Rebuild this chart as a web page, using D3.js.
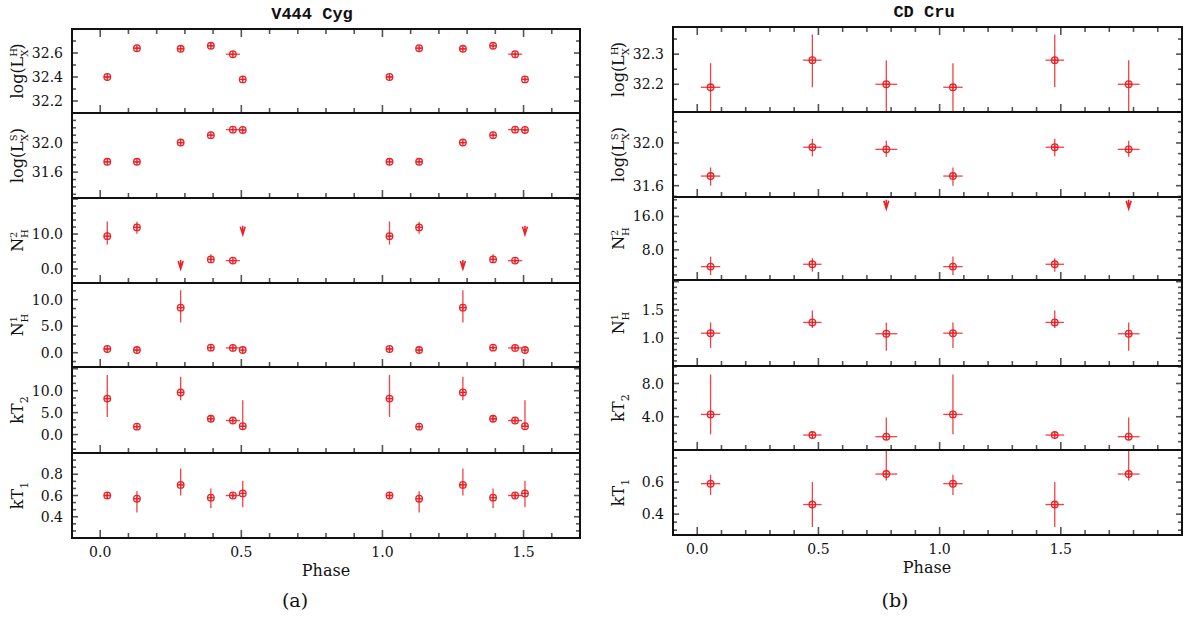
<!DOCTYPE html>
<html lang="en">
<head>
<meta charset="utf-8">
<title>V444 Cyg / CD Cru</title>
<script src="https://d3js.org/d3.v7.min.js"></script>
<style>
body { margin: 0; background: #fff; }
svg text { font-family: "DejaVu Serif", serif; fill: #111; }
.title { font-family: "Liberation Mono", monospace; font-weight: bold; font-size: 17px; }
.tick-label { font-size: 14px; }
.axis-title { font-size: 16px; }
.letter { font-size: 19px; }
</style>
</head>
<body>
<svg id="chart" width="1186" height="617"></svg>
<script>
// ---- data (phase is folded, every observation is drawn at phase and phase+1) ----
var cycles = [0, 1];

// V444 Cyg
var phaseA = [0.025, 0.13, 0.285, 0.392, 0.47, 0.505];
var phaseErrA = [0.012, 0.01, 0.012, 0.01, 0.025, 0.006];
var logLHa = [32.40, 32.64, 32.635, 32.66, 32.59, 32.38];
var logLHaErr = [[0.012,0.012],[0.012,0.012],[0.012,0.012],[0.012,0.012],[0.012,0.012],[0.012,0.012]];
var logLSa = [31.74, 31.74, 32.0, 32.1, 32.175, 32.17];
var logLSaErr = [[0.015,0.015],[0.015,0.015],[0.015,0.015],[0.015,0.015],[0.015,0.015],[0.015,0.015]];
var NH2a = [9.4, 11.9, null, 2.75, 2.4, null];
var NH2aErr = [[2.4,4.2],[1.8,1.6],null,[1.0,1.5],[0.4,0.4],null];
var NH2aLim = [null, null, 2.6, null, null, 12.4];
var NH1a = [0.7, 0.5, 8.5, 0.95, 0.9, 0.5];
var NH1aErr = [[0.3,0.3],[0.3,0.3],[2.8,3.3],[0.3,0.3],[0.3,0.3],[0.3,0.3]];
var kT2a = [8.2, 1.8, 9.6, 3.6, 3.2, 1.9];
var kT2aErr = [[4.2,5.4],[0.3,0.3],[1.8,3.6],[0.7,0.9],[0.4,0.4],[0.2,5.9]];
var kT1a = [0.60, 0.57, 0.70, 0.58, 0.60, 0.62];
var kT1aErr = [[0.03,0.03],[0.13,0.07],[0.10,0.155],[0.10,0.085],[0.02,0.02],[0.13,0.12]];

// CD Cru
var phaseB = [0.055, 0.475, 0.78];
var phaseErrB = [0.04, 0.038, 0.045];
var logLHb = [32.19, 32.28, 32.20];
var logLHbErr = [[0.1,0.08],[0.09,0.085],[0.1,0.08]];
var logLSb = [31.69, 31.96, 31.94];
var logLSbErr = [[0.09,0.08],[0.085,0.08],[0.07,0.08]];
var NH2b = [4.0, 4.56, null];
var NH2bErr = [[2.0,2.4],[1.76,1.44],null];
var NH2bLim = [null, null, 20.0];
var NH1b = [1.09, 1.28, 1.08];
var NH1bErr = [[0.26,0.19],[0.1,0.21],[0.3,0.2]];
var kT2b = [4.28, 1.8, 1.6];
var kT2bErr = [[2.4,4.8],[0.15,0.15],[0.05,2.3]];
var kT1b = [0.59, 0.46, 0.65];
var kT1bErr = [[0.07,0.055],[0.14,0.14],[0.04,0.15]];

// axis ranges and tick steps
var xDomainA = [-0.1, 1.7];
var xDomainB = [-0.1, 2.0];
var yDomainsA = [[32.1,32.8],[31.25,32.4],[-4,20.3],[-2.7,13.15],[-4.2,15.4],[0.2,1.0]];
var yMajorA = [0.2, 0.4, 10, 5, 5, 0.2];
var yMinorA = [0.1, 0.1, 2, 5/3, 5/3, 0.2/3];
var yDomainsB = [[32.108,32.39],[31.494,32.29],[0.8,20.65],[0.51,2.03],[0,10.1],[0.27,0.8]];
var yMajorB = [0.1, 0.4, 8, 0.5, 4, 0.2];
var yMinorB = [0.05, 0.1, 2, 0.1, 1, 0.05];

var yTitles = [
  {base: "log(L", sup: "H", sub: "X", tail: ")"},
  {base: "log(L", sup: "S", sub: "X", tail: ")"},
  {base: "N", sup: "2", sub: "H"},
  {base: "N", sup: "1", sub: "H"},
  {base: "kT", sub: "2"},
  {base: "kT", sub: "1"}
];

var red = "#ec2227";
var fmt = d3.format(".1f");
var svg = d3.select("#chart");
var defs = svg.append("defs");

function tickList(domain, minor, major) {
  var out = [];
  var k0 = Math.ceil(domain[0] / minor - 1e-6), k1 = Math.floor(domain[1] / minor + 1e-6);
  for (var k = k0; k <= k1; k++) {
    var v = k * minor, r = v / major;
    out.push({v: v, major: Math.abs(r - Math.round(r)) < 1e-6});
  }
  return out;
}

function yLabel(g, x, y, spec) {
  var t = g.append("text").attr("class", "axis-title")
    .attr("transform", "translate(" + x + "," + y + ") rotate(-90)")
    .attr("text-anchor", "middle");
  t.append("tspan").text(spec.base);
  var shift = 0;
  if (spec.sup) {
    var s = t.append("tspan").attr("font-size", 10).attr("dy", -6).text(spec.sup);
    shift = -6;
    if (spec.sub) {
      var w = s.node().getComputedTextLength();
      t.append("tspan").attr("font-size", 10).attr("dx", -w).attr("dy", 11).text(spec.sub);
      shift = 5;
    }
  } else if (spec.sub) {
    t.append("tspan").attr("font-size", 11).attr("dy", 5).text(spec.sub);
    shift = 5;
  }
  if (spec.tail) t.append("tspan").attr("dy", -shift).text(spec.tail);
}

function drawStar(star) {
  var g = svg.append("g");
  var x = d3.scaleLinear().domain(star.xDomain).range([star.x0, star.x1]);
  var xt = tickList(star.xDomain, 0.1, 0.5);

  star.panels.forEach(function(p, k) {
    var top = star.ys[k], bot = star.ys[k + 1];
    var y = d3.scaleLinear().domain(p.domain).range([bot, top]);
    var clipId = star.id + "-clip-" + k;
    defs.append("clipPath").attr("id", clipId).append("rect")
      .attr("x", star.x0).attr("y", top).attr("width", star.x1 - star.x0).attr("height", bot - top);

    var tg = g.append("g").attr("stroke", "#555").attr("stroke-width", 1.6);
    // x ticks, bottom of every panel and top of the first one
    xt.forEach(function(t) {
      var len = t.major ? 8 : 5;
      tg.append("line").attr("x1", x(t.v)).attr("x2", x(t.v)).attr("y1", bot).attr("y2", bot - len);
      if (k === 0) tg.append("line").attr("x1", x(t.v)).attr("x2", x(t.v)).attr("y1", top).attr("y2", top + len);
    });
    // y ticks on both sides
    tickList(p.domain, p.minor, p.major).forEach(function(t) {
      var yy = y(t.v), len = t.major ? 6 : 4;
      tg.append("line").attr("x1", star.x0).attr("x2", star.x0 + len).attr("y1", yy).attr("y2", yy);
      tg.append("line").attr("x1", star.x1).attr("x2", star.x1 - len).attr("y1", yy).attr("y2", yy);
      if (t.major && yy - top > 4 && bot - yy > 4) {
        g.append("text").attr("class", "tick-label").attr("x", star.x0 - 9).attr("y", yy)
          .attr("dy", "0.36em").attr("text-anchor", "end").text(fmt(t.v));
      }
    });

    yLabel(g, star.x0 - 49, (top + bot) / 2, yTitles[k]);

    // data
    var dg = g.append("g").attr("clip-path", "url(#" + clipId + ")")
      .attr("stroke", red).attr("fill", "none").attr("stroke-width", 1.3);
    cycles.forEach(function(c) {
      star.phase.forEach(function(ph, i) {
        var px = x(ph + c);
        if (p.lims && p.lims[i] != null) {
          var ly = y(p.lims[i]);
          dg.append("path").attr("stroke-width", 1.6)
            .attr("d", "M" + px + "," + ly + "V" + (ly + 9) +
              "M" + (px - 2.5) + "," + (ly + 1) + "L" + px + "," + (ly + 9) + "L" + (px + 2.5) + "," + (ly + 1));
          return;
        }
        var v = p.vals[i], e = p.errs[i];
        var py = y(v);
        dg.append("line").attr("stroke-opacity", 0.85)
          .attr("x1", px).attr("x2", px).attr("y1", y(v - e[0])).attr("y2", y(v + e[1]));
        dg.append("line").attr("stroke-opacity", 0.85)
          .attr("x1", x(ph + c - star.phaseErr[i])).attr("x2", x(ph + c + star.phaseErr[i]))
          .attr("y1", py).attr("y2", py);
        dg.append("circle").attr("cx", px).attr("cy", py).attr("r", 3.3);
        dg.append("path").attr("d", "M" + (px - 3.3) + "," + py + "H" + (px + 3.3) +
          "M" + px + "," + (py - 3.3) + "V" + (py + 3.3));
      });
    });

    g.append("rect").attr("x", star.x0).attr("y", top)
      .attr("width", star.x1 - star.x0).attr("height", bot - top)
      .attr("fill", "none").attr("stroke", "#111").attr("stroke-width", 2);

    if (k === star.panels.length - 1) {
      xt.forEach(function(t) {
        if (!t.major) return;
        var xx = x(t.v);
        if (xx - star.x0 < 4 || star.x1 - xx < 4) return;
        g.append("text").attr("class", "tick-label").attr("x", xx).attr("y", bot + 19)
          .attr("text-anchor", "middle").text(fmt(t.v));
      });
      g.append("text").attr("class", "axis-title").attr("x", star.phaseX).attr("y", bot + 38)
        .attr("text-anchor", "middle").text("Phase");
    }
  });

  g.append("text").attr("class", "title").attr("x", star.titleX).attr("y", star.ys[0] - 10)
    .attr("text-anchor", "middle").text(star.title);
  g.append("text").attr("class", "letter").attr("x", star.letterX).attr("y", 607)
    .attr("text-anchor", "middle").text(star.letter);
}

function makePanels(vals, errs, lims, domains, majors, minors) {
  return vals.map(function(v, k) {
    return {vals: v, errs: errs[k], lims: lims[k], domain: domains[k], major: majors[k], minor: minors[k]};
  });
}

drawStar({
  id: "a", title: "V444 Cyg", titleX: 312, letter: "(a)", letterX: 295, phaseX: 326,
  x0: 72, x1: 580, ys: [29, 113, 198, 283, 367, 453, 538], xDomain: xDomainA,
  phase: phaseA, phaseErr: phaseErrA,
  panels: makePanels([logLHa, logLSa, NH2a, NH1a, kT2a, kT1a],
    [logLHaErr, logLSaErr, NH2aErr, NH1aErr, kT2aErr, kT1aErr],
    [null, null, NH2aLim, null, null, null], yDomainsA, yMajorA, yMinorA)
});

drawStar({
  id: "b", title: "CD Cru", titleX: 924, letter: "(b)", letterX: 895, phaseX: 927,
  x0: 673, x1: 1182, ys: [27, 112, 197, 280, 366, 450, 535], xDomain: xDomainB,
  phase: phaseB, phaseErr: phaseErrB,
  panels: makePanels([logLHb, logLSb, NH2b, NH1b, kT2b, kT1b],
    [logLHbErr, logLSbErr, NH2bErr, NH1bErr, kT2bErr, kT1bErr],
    [null, null, NH2bLim, null, null, null], yDomainsB, yMajorB, yMinorB)
});
</script>
</body>
</html>
